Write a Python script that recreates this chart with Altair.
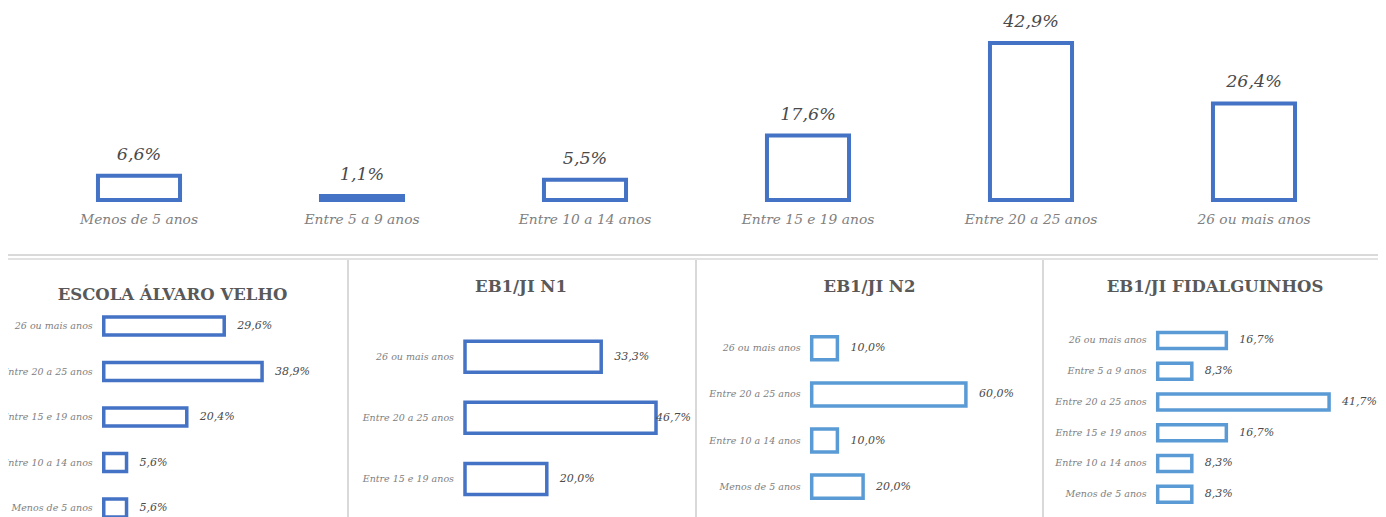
import altair as alt
import pandas as pd

# ---------------- data ----------------
top_categories = ["Menos de 5 anos", "Entre 5 a 9 anos", "Entre 10 a 14 anos",
                  "Entre 15 e 19 anos", "Entre 20 a 25 anos", "26 ou mais anos"]
top_values = [6.6, 1.1, 5.5, 17.6, 42.9, 26.4]

p1_title = "ESCOLA ÁLVARO VELHO"
p1_categories = ["26 ou mais anos", "Entre 20 a 25 anos", "Entre 15 e 19 anos",
                 "Entre 10 a 14 anos", "Menos de 5 anos"]
p1_values = [29.6, 38.9, 20.4, 5.6, 5.6]

p2_title = "EB1/JI N1"
p2_categories = ["26 ou mais anos", "Entre 20 a 25 anos", "Entre 15 e 19 anos"]
p2_values = [33.3, 46.7, 20.0]

p3_title = "EB1/JI N2"
p3_categories = ["26 ou mais anos", "Entre 20 a 25 anos", "Entre 10 a 14 anos",
                 "Menos de 5 anos"]
p3_values = [10.0, 60.0, 10.0, 20.0]

p4_title = "EB1/JI FIDALGUINHOS"
p4_categories = ["26 ou mais anos", "Entre 5 a 9 anos", "Entre 20 a 25 anos",
                 "Entre 15 e 19 anos", "Entre 10 a 14 anos", "Menos de 5 anos"]
p4_values = [16.7, 8.3, 41.7, 16.7, 8.3, 8.3]

FONT = "DejaVu Serif"
DARK_BLUE = "#4472C4"
LIGHT_BLUE = "#5B9BD5"
VAL_COLOR = "#4a4a4a"
TITLE_COLOR = "#595959"
CAT_COLOR = "#808080"
GRID = "#d9d9d9"


def fmt(v):
    return f"{v:.1f}".replace(".", ",") + "%"


def frame(cats, vals):
    return pd.DataFrame({"cat": cats, "val": vals,
                         "lbl": [fmt(v) for v in vals], "zero": [0] * len(cats)})


# ---------------- top column chart ----------------
top_df = frame(top_categories, top_values)
tx = alt.Scale(domain=top_categories, range=[19.5, 1357.5],
               paddingInner=0.632, paddingOuter=0.316)
ty = alt.Scale(domain=[0, 50], range=[192, 9])

top_base = alt.Chart(top_df)
top_bars = top_base.mark_bar(fill="white", stroke=DARK_BLUE, strokeWidth=4).encode(
    x=alt.X("cat:N", scale=tx, axis=None, sort=top_categories),
    y=alt.Y("val:Q", scale=ty, axis=None),
)
top_vals = top_base.mark_text(font=FONT, fontSize=17.5, fontStyle="italic",
                              color=VAL_COLOR, baseline="alphabetic", dy=-16).encode(
    x=alt.X("cat:N", scale=tx, axis=None, sort=top_categories),
    y=alt.Y("val:Q", scale=ty, axis=None),
    text="lbl:N",
)
top_cats = top_base.mark_text(font=FONT, fontSize=13.8, fontStyle="italic",
                              color=CAT_COLOR, baseline="middle", dy=20).encode(
    x=alt.X("cat:N", scale=tx, axis=None, sort=top_categories),
    y=alt.Y("zero:Q", scale=ty, axis=None),
    text="cat:N",
)
top_panel = alt.layer(top_bars, top_vals, top_cats)


# ---------------- bottom bar panels ----------------
def panel(cats, vals, color, xdomain, xrange, yrange, pad, cap=None, sw=3.5):
    df = frame(cats, vals)
    xs = alt.Scale(domain=xdomain, range=xrange)
    ys = alt.Scale(domain=cats, range=yrange, paddingInner=pad, paddingOuter=pad / 2)
    base = alt.Chart(df)
    Y = alt.Y("cat:N", scale=ys, axis=None, sort=cats)
    bars = base.mark_bar(fill="white", stroke=color, strokeWidth=sw).encode(
        x=alt.X("val:Q", scale=xs, axis=None), y=Y)
    if cap is not None:
        vbase = base.transform_calculate(pos=f"min(datum.val, {cap})")
    else:
        vbase = base.transform_calculate(pos="datum.val")
    vals_t = vbase.mark_text(font=FONT, fontSize=11, fontStyle="italic",
                             color=VAL_COLOR, align="left", baseline="middle",
                             dx=13).encode(
        x=alt.X("pos:Q", scale=xs, axis=None), y=Y, text="lbl:N")
    cats_t = base.mark_text(font=FONT, fontSize=9.5, fontStyle="italic",
                            color=CAT_COLOR, align="right", baseline="middle",
                            dx=-11).encode(
        x=alt.X("zero:Q", scale=xs, axis=None), y=Y, text="cat:N")
    return alt.layer(bars, vals_t, cats_t)


p1 = panel(p1_categories, p1_values, DARK_BLUE, [0, 50], [95.75, 299.25],
           [295.25, 522.75], 0.604)
p2 = panel(p2_categories, p2_values, DARK_BLUE, [0, 50], [457, 661.5],
           [318.1, 501.6], 0.493, cap=43.5)
p3 = panel(p3_categories, p3_values, LIGHT_BLUE, [0, 100], [803.7, 1060.7],
           [317.25, 501.65], 0.5)
p4 = panel(p4_categories, p4_values, LIGHT_BLUE, [0, 50], [1149.7, 1355.2],
           [317.1, 501.6], 0.48)

# ---------------- titles & separators ----------------
one = alt.Chart(pd.DataFrame({"a": [0]}))


def title(txt, x, y):
    return one.mark_text(font=FONT, fontSize=16.5, fontWeight="bold", color=TITLE_COLOR,
                         align="center", baseline="middle").encode(
        x=alt.value(x), y=alt.value(y), text=alt.value(txt))


titles = [title(p1_title, 164.5, 287), title(p2_title, 513, 279),
          title(p3_title, 861.5, 279), title(p4_title, 1207, 279)]

hl1 = one.mark_rule(color=GRID, strokeWidth=2).encode(
    x=alt.value(0), x2=alt.value(1373), y=alt.value(247))
hl2 = one.mark_rule(color=GRID, strokeWidth=1.5).encode(
    x=alt.value(0), x2=alt.value(1373), y=alt.value(251))
vls = [one.mark_rule(color=GRID, strokeWidth=2).encode(
    x=alt.value(xx), y=alt.value(252), y2=alt.value(509)) for xx in (340, 688, 1035)]

chart = alt.layer(
    top_panel, p1, p2, p3, p4, hl1, hl2, *vls, *titles
).resolve_scale(x="independent", y="independent").properties(
    width=1370, height=509, padding=0,
    autosize=alt.AutoSizeParams(type="none"),
).configure_view(stroke=None)

chart.save("out.html", embed_options={"renderer": "svg", "actions": False})
